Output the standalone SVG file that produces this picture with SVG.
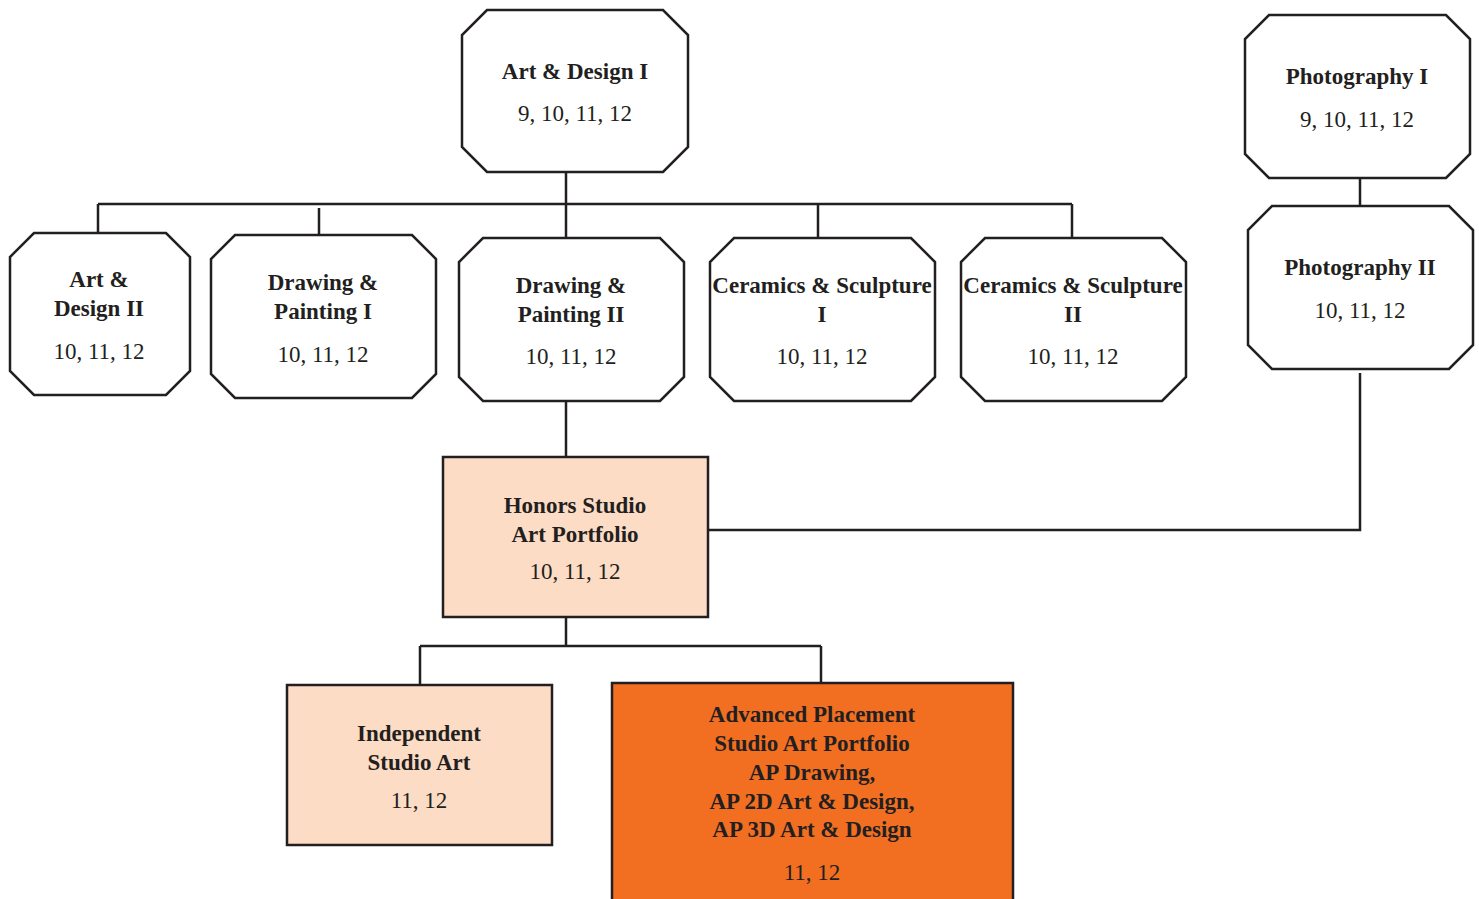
<svg xmlns="http://www.w3.org/2000/svg" width="1479" height="899" viewBox="0 0 1479 899">
<style>
.box{fill:#ffffff;stroke:#231f20;stroke-width:2.5;stroke-linejoin:miter}
.lt{fill:#fcdcc5;stroke:#231f20;stroke-width:2.5}
.or{fill:#f26f22;stroke:#231f20;stroke-width:2.5}
.t{font-family:"Liberation Serif","Times New Roman",serif;font-size:23px;font-weight:bold;fill:#231f20;text-anchor:middle}
.n{font-family:"Liberation Serif","Times New Roman",serif;font-size:23px;fill:#231f20;text-anchor:middle}
.c{fill:none;stroke:#231f20;stroke-width:2.5}
</style>
<rect width="1479" height="899" fill="#ffffff"/>
<g id="connectors">
<path class="c" d="M566,172 V204 M98,204 H1072 M98,204 V233 M319,208 V235 M566,204 V238 M818,204 V238 M1072,204 V238"/>
<path class="c" d="M1360,178 V206"/>
<path class="c" d="M1360,373 V530 H708"/>
<path class="c" d="M566,401 V457"/>
<path class="c" d="M566,617 V646 M420,646 H821 M420,646 V685 M821,646 V683"/>
</g>
<g id="art-design-1">
<polygon class="box" points="487,10 663,10 688,35 688,147 663,172 487,172 462,147 462,35"/>
<text class="t" x="575" y="79">Art &amp; Design I</text>
<text class="n" x="575" y="121">9, 10, 11, 12</text>
</g>
<g id="art-design-2">
<polygon class="box" points="34,233 166,233 190,257 190,371 166,395 34,395 10,371 10,257"/>
<text class="t" x="99" y="287">Art &amp;</text>
<text class="t" x="99" y="316">Design II</text>
<text class="n" x="99" y="359">10, 11, 12</text>
</g>
<g id="drawing-painting-1">
<polygon class="box" points="235,235 412,235 436,259 436,374 412,398 235,398 211,374 211,259"/>
<text class="t" x="323" y="290">Drawing &amp;</text>
<text class="t" x="323" y="319">Painting I</text>
<text class="n" x="323" y="362">10, 11, 12</text>
</g>
<g id="drawing-painting-2">
<polygon class="box" points="483,238 660,238 684,262 684,377 660,401 483,401 459,377 459,262"/>
<text class="t" x="571" y="293">Drawing &amp;</text>
<text class="t" x="571" y="322">Painting II</text>
<text class="n" x="571" y="364">10, 11, 12</text>
</g>
<g id="ceramics-1">
<polygon class="box" points="734,238 911,238 935,262 935,377 911,401 734,401 710,377 710,262"/>
<text class="t" x="822" y="293">Ceramics &amp; Sculpture</text>
<text class="t" x="822" y="322">I</text>
<text class="n" x="822" y="364">10, 11, 12</text>
</g>
<g id="ceramics-2">
<polygon class="box" points="985,238 1162,238 1186,262 1186,377 1162,401 985,401 961,377 961,262"/>
<text class="t" x="1073" y="293">Ceramics &amp; Sculpture</text>
<text class="t" x="1073" y="322">II</text>
<text class="n" x="1073" y="364">10, 11, 12</text>
</g>
<g id="photography-1">
<polygon class="box" points="1269,15 1446,15 1470,39 1470,154 1446,178 1269,178 1245,154 1245,39"/>
<text class="t" x="1357" y="84">Photography I</text>
<text class="n" x="1357" y="127">9, 10, 11, 12</text>
</g>
<g id="photography-2">
<polygon class="box" points="1272,206 1449,206 1473,230 1473,345 1449,369 1272,369 1248,345 1248,230"/>
<text class="t" x="1360" y="275">Photography II</text>
<text class="n" x="1360" y="318">10, 11, 12</text>
</g>
<g id="honors">
<rect class="lt" x="443" y="457" width="265" height="160"/>
<text class="t" x="575" y="513">Honors Studio</text>
<text class="t" x="575" y="542">Art Portfolio</text>
<text class="n" x="575" y="579">10, 11, 12</text>
</g>
<g id="independent">
<rect class="lt" x="287" y="685" width="265" height="160"/>
<text class="t" x="419" y="741">Independent</text>
<text class="t" x="419" y="770">Studio Art</text>
<text class="n" x="419" y="808">11, 12</text>
</g>
<g id="ap">
<rect class="or" x="612" y="683" width="401" height="230"/>
<text class="t" x="812" y="722">Advanced Placement</text>
<text class="t" x="812" y="751">Studio Art Portfolio</text>
<text class="t" x="812" y="780">AP Drawing,</text>
<text class="t" x="812" y="809">AP 2D Art &amp; Design,</text>
<text class="t" x="812" y="837">AP 3D Art &amp; Design</text>
<text class="n" x="812" y="880">11, 12</text>
</g>
</svg>
